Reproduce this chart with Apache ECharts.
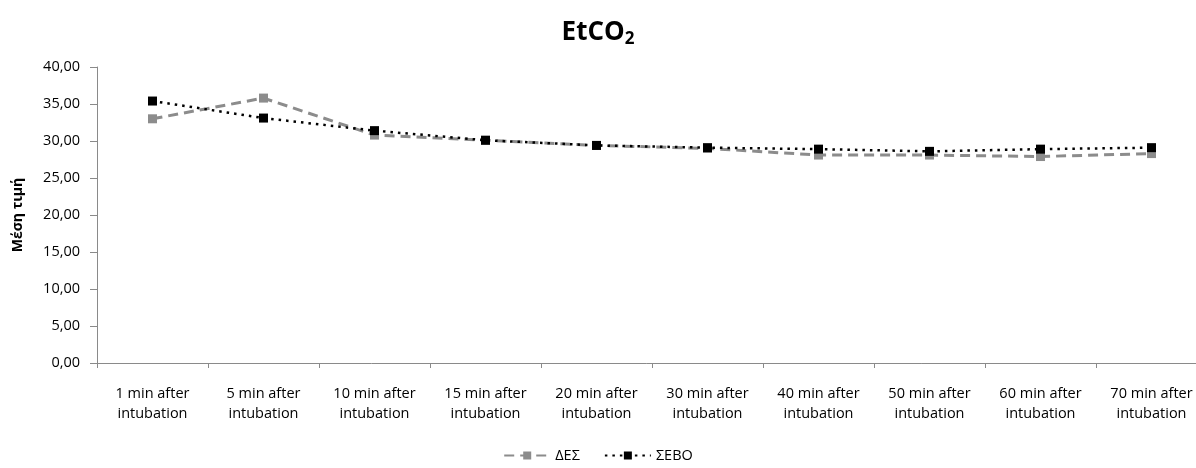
<!DOCTYPE html>
<html>
<head>
<meta charset="utf-8">
<script src="https://cdn.jsdelivr.net/npm/echarts@6/dist/echarts.min.js"></script>
<style>html,body{margin:0;padding:0;background:#fff;}#c{width:1196px;height:468px;}</style>
</head>
<body>
<div id="c"></div>
<script>
var categories = ['1 min after\nintubation','5 min after\nintubation','10 min after\nintubation','15 min after\nintubation','20 min after\nintubation','30 min after\nintubation','40 min after\nintubation','50 min after\nintubation','60 min after\nintubation','70 min after\nintubation'];
var desValues = [33.0, 35.8, 30.8, 30.1, 29.4, 29.0, 28.1, 28.1, 27.9, 28.3];
var seboValues = [35.4, 33.1, 31.4, 30.1, 29.4, 29.1, 28.9, 28.6, 28.9, 29.1];
var seriesNames = ['ΔΕΣ', 'ΣΕΒΟ'];
var yTicks = {min: 0, max: 40, interval: 5};

var font = 'Open Sans';
var chart = echarts.init(document.getElementById('c'));
chart.setOption({
  animation: false,
  backgroundColor: '#fff',
  title: {
    text: '{a|EtCO}{b|2}',
    left: 'center',
    top: 12,
    textStyle: {
      rich: {
        a: {fontFamily: font, fontWeight: 'bold', fontSize: 26, color: '#000'},
        b: {fontFamily: font, fontWeight: 'bold', fontSize: 17, color: '#000', verticalAlign: 'bottom', padding: [14, 0, 0, 0]}
      }
    }
  },
  legend: {
    bottom: 0,
    left: 'center',
    itemWidth: 46,
    itemHeight: 10,
    itemGap: 24,
    textStyle: {fontFamily: font, fontSize: 14.5, color: '#000'},
    data: seriesNames
  },
  grid: {left: 97, width: 1110, top: 67, bottom: 105, containLabel: false, outerBoundsMode: 'none'},
  xAxis: {
    type: 'category',
    data: categories,
    boundaryGap: true,
    axisLine: {lineStyle: {color: '#8a8a8a', width: 1}},
    axisTick: {show: true, length: 5, lineStyle: {color: '#8a8a8a'}},
    axisLabel: {fontFamily: font, fontSize: 14.5, color: '#000', margin: 21, lineHeight: 20, interval: 0, hideOverlap: false}
  },
  yAxis: {
    type: 'value',
    min: yTicks.min,
    max: yTicks.max,
    interval: yTicks.interval,
    name: 'Μέση τιμή',
    nameLocation: 'middle',
    nameGap: 72,
    nameRotate: 90,
    nameTextStyle: {fontFamily: font, fontSize: 14, fontWeight: 'bold', color: '#000'},
    splitLine: {show: false},
    axisLine: {show: true, lineStyle: {color: '#8a8a8a', width: 1}},
    axisTick: {show: true, length: 7, lineStyle: {color: '#8a8a8a'}},
    axisLabel: {fontFamily: font, fontSize: 14.5, color: '#000', margin: 17,
      formatter: function (v) { return v.toFixed(2).replace('.', ','); }}
  },
  series: [
    {
      name: seriesNames[0],
      type: 'line',
      data: desValues,
      symbol: 'rect',
      symbolSize: 9,
      color: '#8c8c8c',
      lineStyle: {color: '#8c8c8c', width: 3, type: [10, 6]},
      itemStyle: {color: '#8c8c8c'}
    },
    {
      name: seriesNames[1],
      type: 'line',
      data: seboValues,
      symbol: 'rect',
      symbolSize: 9,
      color: '#000',
      lineStyle: {color: '#000', width: 2.5, type: [2.5, 5]},
      itemStyle: {color: '#000'}
    }
  ]
});
</script>
</body>
</html>
